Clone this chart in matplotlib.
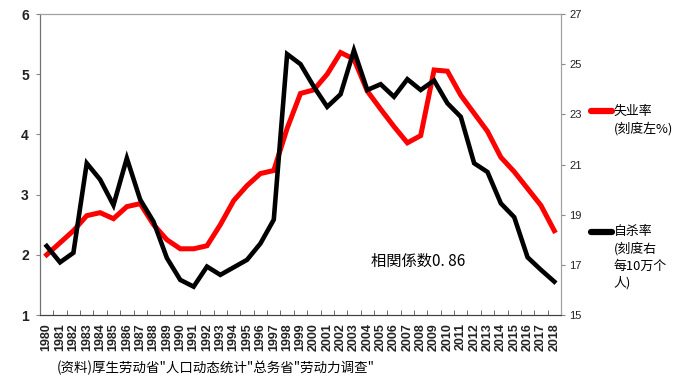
import numpy as np
import matplotlib.pyplot as plt
from matplotlib.lines import Line2D

plt.rcParams['font.family'] = ['Noto Sans CJK SC', 'DejaVu Sans']

years = list(range(1980, 2019))
# 失业率 (%), left axis
unemployment = [2.0, 2.2, 2.4, 2.65, 2.7, 2.6, 2.8, 2.85, 2.5, 2.25, 2.1, 2.1, 2.15, 2.5, 2.9, 3.15, 3.35, 3.4,
                4.1, 4.68, 4.74, 5.0, 5.36, 5.25, 4.72, 4.42, 4.13, 3.86, 3.98, 5.07, 5.05, 4.65, 4.35, 4.05,
                3.62, 3.38, 3.1, 2.82, 2.4]
# 自杀率 (每10万人), right axis
suicide = [17.75, 17.1, 17.48, 21.05, 20.4, 19.38, 21.25, 19.6, 18.72, 17.27, 16.4, 16.13, 16.93, 16.6, 16.9,
           17.2, 17.85, 18.8, 25.4, 25.0, 24.1, 23.3, 23.8, 25.55, 23.97, 24.2, 23.7, 24.4, 23.97, 24.35,
           23.44, 22.9, 21.05, 20.7, 19.45, 18.9, 17.3, 16.8, 16.33]

left_ticks = [1, 2, 3, 4, 5, 6]
right_ticks = [15, 17, 19, 21, 23, 25, 27]

fig = plt.figure(figsize=(6.78, 3.90), dpi=100)
ax = fig.add_axes([0.059, 0.1923, 0.7684, 0.7718])
ax2 = ax.twinx()

x = np.arange(len(years))
ax.plot(x, unemployment, color='#ff0000', lw=3.6, solid_joinstyle='miter', zorder=3)
ax2.plot(x, suicide, color='black', lw=3.3, solid_joinstyle='miter', zorder=4)

ax.set_xlim(-0.5, len(years) - 0.5)
ax.set_ylim(1, 6)
ax2.set_ylim(15, 27)
ax.set_yticks(left_ticks)
ax2.set_yticks(right_ticks)

ax.set_xticks(x)
ax.set_xticklabels([str(y) for y in years], rotation=90, fontsize=9, family='Liberation Sans',
                   fontweight='bold', color='#222222')
ax.set_xticks(np.arange(-0.5, len(years) + 0.5, 1), minor=True)
ax.tick_params(axis='x', which='major', length=0, pad=6)
ax.tick_params(axis='x', which='minor', length=3.5, direction='in', color='#555555')
ax.tick_params(axis='y', length=3, color='#888888', labelsize=10, pad=5)
ax2.tick_params(axis='y', length=3, color='#888888', labelsize=8, pad=3)
for lab in ax.get_yticklabels():
    lab.set_family('Liberation Sans')
    lab.set_fontweight('bold')
    lab.set_color('#222222')
for lab in ax2.get_yticklabels():
    lab.set_family('Liberation Sans')
    lab.set_color('#222222')

for a in (ax, ax2):
    a.spines['top'].set_color('#a0a0a0')
    a.spines['right'].set_color('#a0a0a0')
    a.spines['left'].set_color('#707070')
    a.spines['bottom'].set_color('#404040')

ax.text(0.635, 0.18, '相関係数0. 86', transform=ax.transAxes, fontsize=11, ha='left', va='center')

# legend
fig.add_artist(Line2D([0.871, 0.902], [1 - 111 / 390] * 2, color='#ff0000', lw=4.5,
                      solid_capstyle='round', transform=fig.transFigure))
fig.text(0.905, 1 - 111 / 390, '失业率', fontsize=9.3, va='center')
fig.text(0.905, 1 - 129 / 390, '(刻度左%)', fontsize=9.3, va='center')
fig.add_artist(Line2D([0.871, 0.902], [1 - 232 / 390] * 2, color='black', lw=4.5,
                      solid_capstyle='round', transform=fig.transFigure))
fig.text(0.905, 1 - 232 / 390, '自杀率', fontsize=9.3, va='center')
fig.text(0.905, 1 - 249 / 390, '(刻度右', fontsize=9.3, va='center')
fig.text(0.905, 1 - 266 / 390, '每10万个', fontsize=9.3, va='center')
fig.text(0.905, 1 - 283 / 390, '人)', fontsize=9.3, va='center')

fig.text(0.084, 1 - 368 / 390, '(资料)厚生劳动省"人口动态统计"总务省"劳动力调查"', fontsize=9.7, va='center')

fig.savefig('out.png', dpi=100)
